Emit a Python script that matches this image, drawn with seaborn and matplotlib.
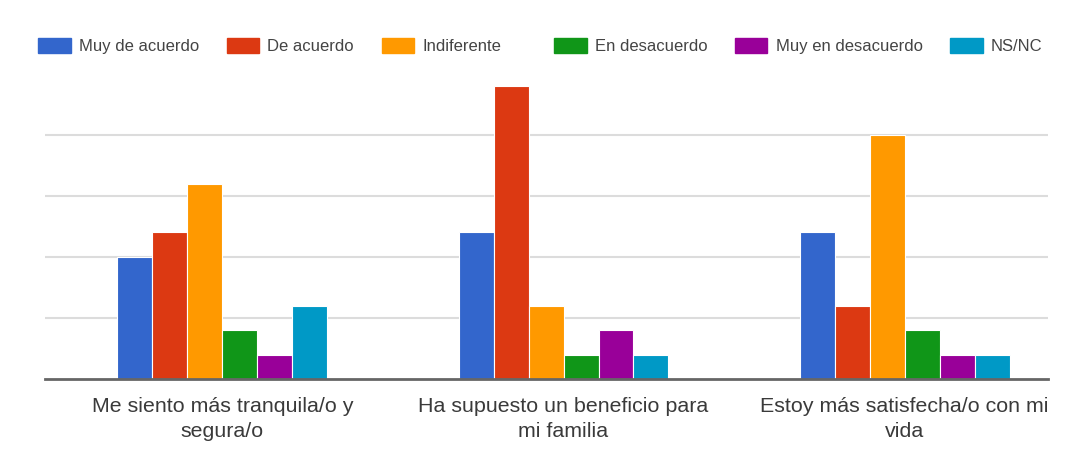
import matplotlib
matplotlib.use("Agg")
import matplotlib.pyplot as plt
import seaborn as sns
import pandas as pd

# Survey statements (x categories) and answer options (series)
categories = [
    "Me siento más tranquila/o y\nsegura/o",
    "Ha supuesto un beneficio para\nmi familia",
    "Estoy más satisfecha/o con mi\nvida",
]
series = ["Muy de acuerdo", "De acuerdo", "Indiferente",
          "En desacuerdo", "Muy en desacuerdo", "NS/NC"]

muy_de_acuerdo = [5, 6, 6]
de_acuerdo = [6, 12, 3]
indiferente = [8, 3, 10]
en_desacuerdo = [2, 1, 2]
muy_en_desacuerdo = [1, 2, 1]
ns_nc = [3, 1, 1]

colors = ["#3366cc", "#dc3912", "#ff9900", "#109618", "#990099", "#0099c6"]

values = [muy_de_acuerdo, de_acuerdo, indiferente,
          en_desacuerdo, muy_en_desacuerdo, ns_nc]
rows = []
for name, vals in zip(series, values):
    for cat, v in zip(categories, vals):
        rows.append({"pregunta": cat, "respuesta": name, "n": v})
df = pd.DataFrame(rows)

sns.set_theme(style="white")
plt.rcParams["font.family"] = ["Liberation Sans", "DejaVu Sans"]

fig = plt.figure(figsize=(10.9, 4.66), dpi=100)
ax = fig.add_axes([45 / 1090, 1 - 379 / 466, (1048 - 45) / 1090, (379 - 81) / 466])

sns.barplot(data=df, x="pregunta", y="n", hue="respuesta",
            order=categories, hue_order=series, palette=colors,
            width=0.615, edgecolor="white", linewidth=0.8,
            saturation=1, ax=ax, legend=False, zorder=3)

ax.set_xlim(-0.52, 2.42)
ax.set_ylim(0, 12.2)
ax.set_yticks([2.5, 5, 7.5, 10])
ax.set_yticklabels([])
ax.tick_params(axis="y", length=0)
ax.tick_params(axis="x", length=0, pad=13, labelsize=15.4, labelcolor="#3a3a3a")
for lbl in ax.get_xticklabels():
    lbl.set_linespacing(1.4)
ax.yaxis.grid(True, color="#dcdcdc", linewidth=1.5, zorder=0)
ax.set_xlabel("")
ax.set_ylabel("")
for side in ["top", "right", "left"]:
    ax.spines[side].set_visible(False)
ax.spines["bottom"].set_color("#666666")
ax.spines["bottom"].set_linewidth(2)
ax.spines["bottom"].set_zorder(4)

# Legend row across the top, laid out in two blocks of three entries
handles = [plt.Rectangle((0, 0), 1, 1, facecolor=c, edgecolor=c) for c in colors]
legend_kw = dict(loc="center left", ncol=3, frameon=False, fontsize=12,
                 handlelength=1.95, handleheight=1.0, handletextpad=0.5,
                 columnspacing=1.65, borderpad=0, borderaxespad=0,
                 labelcolor="#444444")
fig.legend(handles[:3], series[:3],
           bbox_to_anchor=(38 / 1090, 1 - 46 / 466), **legend_kw)
fig.legend(handles[3:], series[3:],
           bbox_to_anchor=(554 / 1090, 1 - 46 / 466), **legend_kw)

fig.savefig("out.png", dpi=100, facecolor="white")
